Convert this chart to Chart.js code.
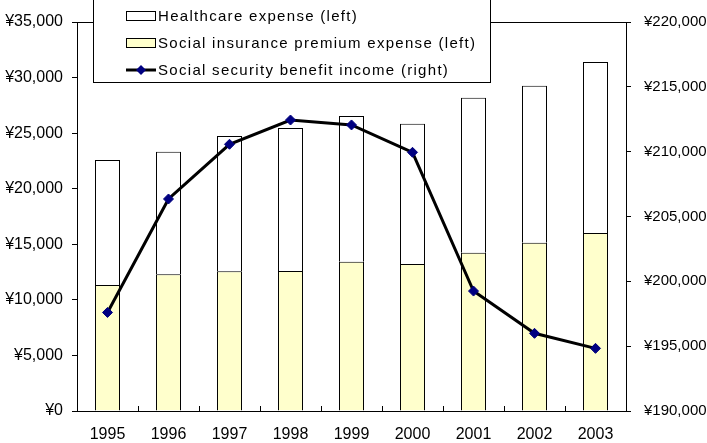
<!DOCTYPE html>
<html>
<head>
<meta charset="utf-8">
<script src="https://cdn.jsdelivr.net/npm/chart.js@4/dist/chart.umd.min.js"></script>
<style>
  html, body { margin: 0; padding: 0; background: #fff; }
  canvas { display: block; }
</style>
</head>
<body>
<canvas id="costChart" width="707" height="443"></canvas>
<script>
const years = ['1995', '1996', '1997', '1998', '1999', '2000', '2001', '2002', '2003'];
const premiumExpense = [11340, 12300, 12570, 12600, 13430, 13230, 14240, 15140, 16020];
const healthcareExpense = [11240, 11030, 12170, 12860, 13110, 12620, 13950, 14130, 15380];
const benefitIncome = [197600, 206350, 210570, 212440, 212060, 209950, 199250, 195990, 194830];

const FONT = '"Liberation Sans", Arial, sans-serif';
const yen = v => '¥' + Number(v).toLocaleString('en-US');

// box round the plot area + short inward ticks between the years
const frame = {
  id: 'frame',
  afterDatasetsDraw(chart) {
    const { ctx, chartArea: a, scales: { x } } = chart;
    ctx.save();
    ctx.strokeStyle = '#000';
    ctx.lineWidth = 1;
    ctx.strokeRect(a.left + 0.5, a.top + 0.5, a.right - a.left, a.bottom - a.top);
    const step = x.getPixelForValue(1) - x.getPixelForValue(0);
    ctx.beginPath();
    for (let i = 1; i < years.length; i++) {
      const px = Math.round(x.getPixelForValue(i) - step / 2) + 0.5;
      ctx.moveTo(px, a.bottom);
      ctx.lineTo(px, a.bottom - 5);
    }
    ctx.stroke();
    ctx.restore();
  }
};

// legend box drawn over the top of the plot
const boxLegend = {
  id: 'boxLegend',
  afterDraw(chart) {
    const ctx = chart.ctx;
    const ds = chart.data.datasets;
    const rows = [
      { d: ds[1], y: 16 },
      { d: ds[0], y: 43 },
      { d: ds[2], y: 70 }
    ];
    ctx.save();
    ctx.fillStyle = '#fff';
    ctx.fillRect(93, -1, 398, 84);
    ctx.strokeStyle = '#000';
    ctx.lineWidth = 1;
    ctx.strokeRect(93.5, -0.5, 397, 83);
    ctx.font = '15px ' + FONT;
    ctx.letterSpacing = '1.3px';
    ctx.textBaseline = 'middle';
    rows.forEach(r => {
      if (r.d.type === 'line') {
        ctx.strokeStyle = r.d.borderColor;
        ctx.lineWidth = 3;
        ctx.beginPath();
        ctx.moveTo(126, r.y);
        ctx.lineTo(156, r.y);
        ctx.stroke();
        ctx.fillStyle = r.d.pointBackgroundColor;
        ctx.beginPath();
        ctx.moveTo(141, r.y - 5);
        ctx.lineTo(146, r.y);
        ctx.lineTo(141, r.y + 5);
        ctx.lineTo(136, r.y);
        ctx.closePath();
        ctx.fill();
      } else {
        ctx.fillStyle = r.d.backgroundColor;
        ctx.fillRect(126, r.y - 5, 30, 10);
        ctx.strokeStyle = '#000';
        ctx.lineWidth = 1;
        ctx.strokeRect(126.5, r.y - 4.5, 29, 9);
      }
      ctx.fillStyle = '#000';
      ctx.fillText(r.d.label, 158, r.y + 1);
    });
    ctx.restore();
  }
};

new Chart(document.getElementById('costChart'), {
  data: {
    labels: years,
    datasets: [
      {
        type: 'bar',
        label: 'Social insurance premium expense (left)',
        data: premiumExpense,
        backgroundColor: '#ffffcc',
        borderColor: '#000',
        borderWidth: 1,
        yAxisID: 'y',
        stack: 'cost',
        order: 2
      },
      {
        type: 'bar',
        label: 'Healthcare expense (left)',
        data: healthcareExpense,
        backgroundColor: '#ffffff',
        borderColor: '#000',
        borderWidth: 1,
        yAxisID: 'y',
        stack: 'cost',
        order: 2
      },
      {
        type: 'line',
        label: 'Social security benefit income (right)',
        data: benefitIncome,
        borderColor: '#000',
        borderWidth: 3,
        pointStyle: 'rectRot',
        pointRadius: 5,
        pointBackgroundColor: '#000080',
        pointBorderColor: '#000080',
        pointBorderWidth: 1,
        tension: 0,
        yAxisID: 'y1',
        order: 1
      }
    ]
  },
  options: {
    responsive: false,
    animation: false,
    layout: { padding: { top: 22, left: 0, right: 0, bottom: 0 } },
    datasets: { bar: { barPercentage: 0.41, categoryPercentage: 1 } },
    plugins: { legend: { display: false }, tooltip: { enabled: false } },
    scales: {
      x: {
        stacked: true,
        border: { display: false },
        grid: { display: false },
        ticks: { color: '#000', font: { family: FONT, size: 16 }, padding: 6, maxRotation: 0 },
        afterFit: s => { s.height = 32; }
      },
      y: {
        stacked: true,
        position: 'left',
        min: 0,
        max: 35000,
        border: { display: false },
        grid: { drawOnChartArea: false, drawTicks: true, tickLength: 5, color: '#000' },
        ticks: { stepSize: 5000, color: '#000', font: { family: FONT, size: 16 }, padding: 9, callback: yen },
        afterFit: s => { s.width = 77; }
      },
      y1: {
        position: 'right',
        min: 190000,
        max: 220000,
        border: { display: false },
        grid: { drawOnChartArea: false, drawTicks: true, tickLength: 5, color: '#000' },
        ticks: { stepSize: 5000, color: '#000', font: { family: FONT, size: 15 }, padding: 13, callback: yen },
        afterFit: s => { s.width = 81; }
      }
    }
  },
  plugins: [frame, boxLegend]
});
</script>
</body>
</html>
